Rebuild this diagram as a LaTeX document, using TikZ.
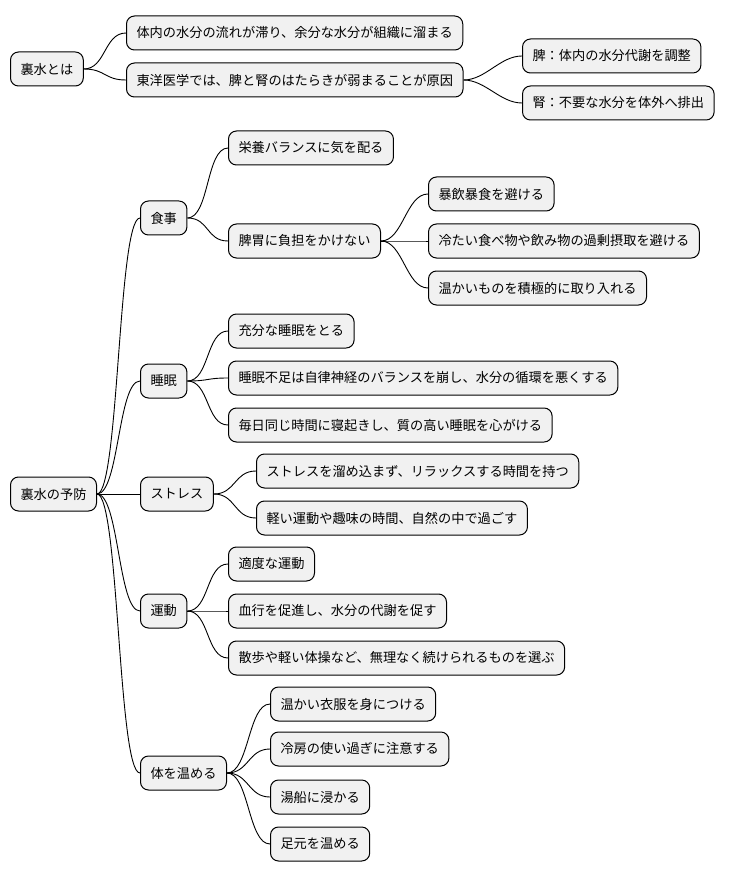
\documentclass[tikz,border=0pt]{standalone}
\usepackage{fontspec}
\setmainfont{Noto Sans CJK JP}
\definecolor{boxfill}{HTML}{F1F1F1}
\tikzset{
  topic/.style={draw=black,fill=boxfill,rounded corners=8pt,anchor=west,
    minimum height=34pt,inner xsep=10pt,line width=1pt,
    font=\fontsize{13.2}{16}\selectfont},
  link/.style={line width=0.9pt},
}
\newcommand{\branch}[2]{\draw[link] (#1.east) .. controls +(22,0) and +(-22,0) .. (#2.west);}
\begin{document}
\begin{tikzpicture}[x=1pt,y=-1pt]
    \useasboundingbox (0,0) rectangle (734,877);
    % what it is
    \node[topic] (what) at (10,69) {裏水とは};
    \node[topic] (flow) at (126,33) {体内の水分の流れが滞り、余分な水分が組織に溜まる};
    \node[topic] (east) at (126,80) {東洋医学では、脾と腎のはたらきが弱まることが原因};
    \node[topic] (hi) at (522,56) {脾：体内の水分代謝を調整};
    \node[topic] (jin) at (522,103) {腎：不要な水分を体外へ排出};
    \branch{what}{flow}
    \branch{what}{east}
    \branch{east}{hi}
    \branch{east}{jin}
    % prevention
    \node[topic] (prev) at (10,494) {裏水の予防};
    \node[topic] (meal) at (140,218) {食事};
    \node[topic] (m1) at (228,148) {栄養バランスに気を配る};
    \node[topic] (m2) at (228,241) {脾胃に負担をかけない};
    \node[topic] (m21) at (428,194) {暴飲暴食を避ける};
    \node[topic] (m22) at (428,241) {冷たい食べ物や飲み物の過剰摂取を避ける};
    \node[topic] (m23) at (428,288) {温かいものを積極的に取り入れる};
    \node[topic] (sleep) at (140,381) {睡眠};
    \node[topic] (s1) at (228,331) {充分な睡眠をとる};
    \node[topic] (s2) at (228,378) {睡眠不足は自律神経のバランスを崩し、水分の循環を悪くする};
    \node[topic] (s3) at (228,425) {毎日同じ時間に寝起きし、質の高い睡眠を心がける};
    \node[topic] (stress) at (140,494) {ストレス};
    \node[topic] (t1) at (256,471) {ストレスを溜め込まず、リラックスする時間を持つ};
    \node[topic] (t2) at (256,518) {軽い運動や趣味の時間、自然の中で過ごす};
    \node[topic] (move) at (140,611) {運動};
    \node[topic] (e1) at (228,564) {適度な運動};
    \node[topic] (e2) at (228,611) {血行を促進し、水分の代謝を促す};
    \node[topic] (e3) at (228,658) {散歩や軽い体操など、無理なく続けられるものを選ぶ};
    \node[topic] (warm) at (140,773) {体を温める};
    \node[topic] (w1) at (270,704) {温かい衣服を身につける};
    \node[topic] (w2) at (270,749) {冷房の使い過ぎに注意する};
    \node[topic] (w3) at (270,797) {湯船に浸かる};
    \node[topic] (w4) at (270,844) {足元を温める};
    \foreach \c in {meal,sleep,stress,move,warm} {\branch{prev}{\c}}
    \foreach \c in {m1,m2} {\branch{meal}{\c}}
    \foreach \c in {m21,m22,m23} {\branch{m2}{\c}}
    \foreach \c in {s1,s2,s3} {\branch{sleep}{\c}}
    \foreach \c in {t1,t2} {\branch{stress}{\c}}
    \foreach \c in {e1,e2,e3} {\branch{move}{\c}}
    \foreach \c in {w1,w2,w3,w4} {\branch{warm}{\c}}
\end{tikzpicture}
\end{document}
